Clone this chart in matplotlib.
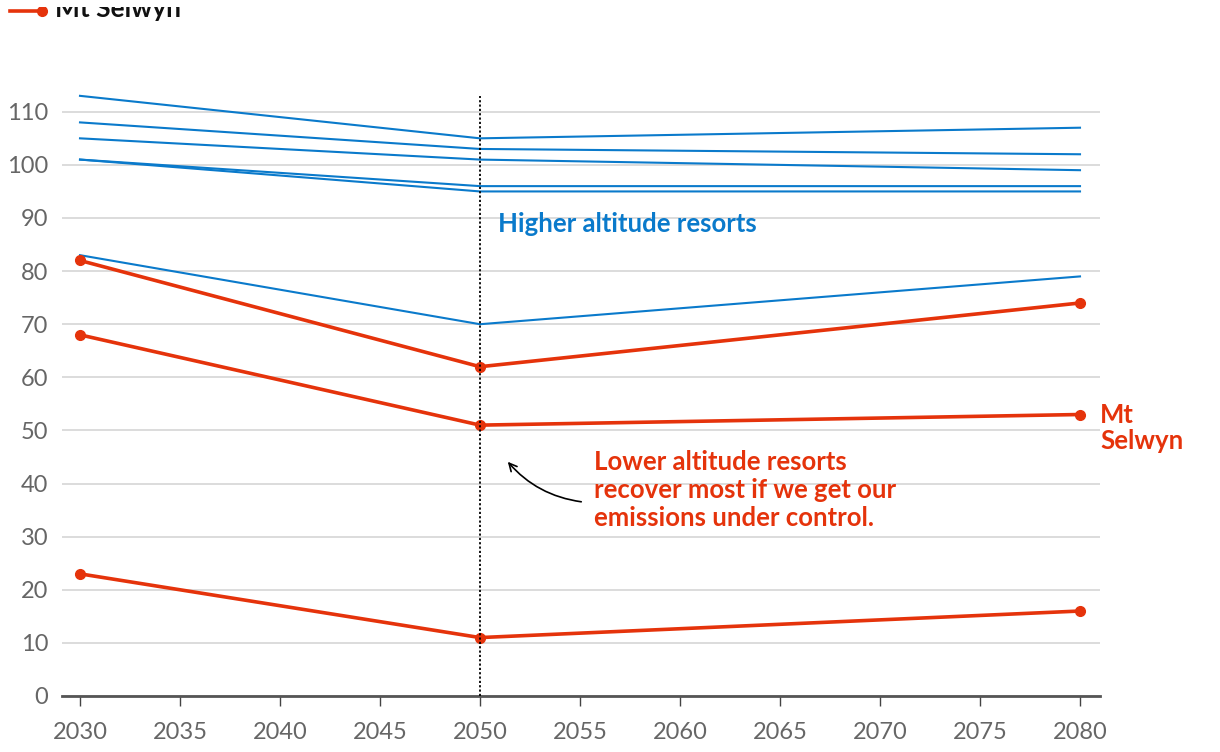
import matplotlib.pyplot as plt
from matplotlib.lines import Line2D
from matplotlib.patches import Rectangle

years = [2030, 2050, 2080]

# higher altitude resorts (blue)
high_resorts = [
  [113, 105, 107],
  [108, 103, 102],
  [105, 101, 99],
  [101, 96, 96],
  [101, 95, 95],
  [83, 70, 79],
]

# lower altitude resorts (red)
mt_selwyn = [68, 51, 53]
low_resorts = [
  [82, 62, 74],
  [23, 11, 16],
]

x_ticks = list(range(2030, 2081, 5))
y_ticks = list(range(0, 111, 10))

RED = '#e5330b'
BLUE = '#0a7acb'
GREY = '#666666'

plt.rcParams['font.family'] = ['Lato', 'DejaVu Sans']

fig = plt.figure(figsize=(12.2, 7.52), dpi=100)
ax = fig.add_axes([62 / 1220, 56 / 752, 1038 / 1220, (696 - 90) / 752])

for series in high_resorts:
  ax.plot(years, series, color=BLUE, lw=1.5, zorder=3)

for series in low_resorts + [mt_selwyn]:
  ax.plot(years, series, color=RED, lw=2.6, marker='o', ms=7, zorder=4)

ax.vlines(2050, 0, 113, colors='black', linestyles=(0, (1.2, 1.2)), lw=1.3, zorder=5)

ax.set_xlim(2029.1, 2081)
ax.set_ylim(0, 114.1)
ax.set_xticks(x_ticks)
ax.set_yticks(y_ticks)
ax.grid(axis='y', color='#d9d9d9', lw=1.3)
ax.set_axisbelow(True)
for s in ['top', 'right', 'left']:
  ax.spines[s].set_visible(False)
ax.spines['bottom'].set_color('#555555')
ax.spines['bottom'].set_linewidth(2)
ax.tick_params(axis='x', length=7, width=1, color='#444444', labelsize=17, labelcolor=GREY, pad=12)
ax.tick_params(axis='y', length=0, labelsize=17, labelcolor=GREY, pad=10)

ax.text(2050.9, 88.9, 'Higher altitude resorts', color=BLUE, fontsize=18.5,
        fontweight='bold', va='center', ha='left')
ax.text(2055.7, 46.4, 'Lower altitude resorts\nrecover most if we get our\nemissions under control.',
        color=RED, fontsize=18.5, fontweight='bold', va='top', ha='left', linespacing=1.2)
ax.text(2081, 55.2, 'Mt\nSelwyn', color=RED, fontsize=18.5, fontweight='bold',
        va='top', ha='left', linespacing=1.1, clip_on=False)

ax.annotate('', xy=(2051.3, 44.5), xytext=(2055.2, 36.5),
            arrowprops=dict(arrowstyle='->', color='black', lw=1.2,
                            connectionstyle='arc3,rad=-0.2', mutation_scale=14))

# legend entry at the very top, cropped as in the source
fig.add_artist(Line2D([10 / 1220, 42 / 1220], [741 / 752, 741 / 752], color=RED, lw=2.6,
                      marker='o', ms=7, markevery=[1], transform=fig.transFigure))
fig.text(55 / 1220, (752 - 17) / 752, 'Mt Selwyn', fontsize=19, fontweight='bold',
         color='#111111', va='baseline', ha='left')
fig.add_artist(Rectangle((0, 745 / 752), 1, 7 / 752, transform=fig.transFigure,
                         facecolor='white', edgecolor='none', zorder=10))

plt.savefig('out.png', dpi=100)
